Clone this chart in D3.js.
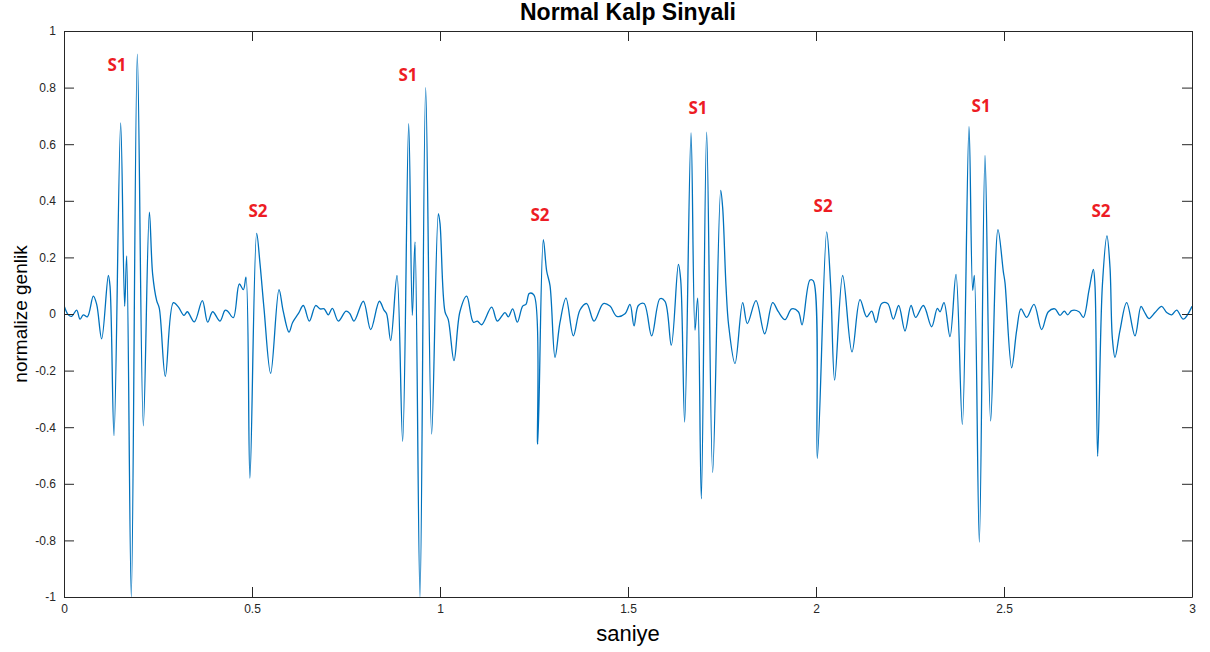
<!DOCTYPE html>
<html>
<head>
<meta charset="utf-8">
<script src="https://cdn.jsdelivr.net/npm/d3@7"></script>
<style>
  html, body { margin: 0; padding: 0; background: #fff; }
  svg { display: block; font-family: "Liberation Sans", Arial, sans-serif; }
</style>
</head>
<body>
<svg id="chart" width="1210" height="652"></svg>
<script>
// Heart sound signal, [seconds, normalised amplitude], split into half-second pieces
const part0 = [[0,0.03],[0.0115,-0.003],[0.0204,-0.008],[0.0337,0.014],[0.0426,-0.018],[0.0514,-0.003],[0.0621,-0.01],[0.078,0.063],[0.0869,0.034],[0.1002,-0.088],[0.1179,0.136],[0.1223,0.10],[0.133,-0.43],[0.1507,0.675],[0.1613,0.027],[0.1667,0.205],[0.179,-1.0],[0.195,0.918],[0.211,-0.395],[0.227,0.36],[0.2358,0.14],[0.2465,0.047],[0.2535,0.02],[0.2695,-0.22],[0.2908,0.04],[0.304,0.025],[0.3191,-0.005],[0.328,0.008],[0.3466,-0.028],[0.3679,0.047],[0.3821,-0.029],[0.3954,0.008],[0.4149,-0.025],[0.4282,0.013],[0.4353,0.01],[0.4503,-0.013],[0.4663,0.106],[0.477,0.086],[0.484,0.13],[0.4945,-0.58]];
const part1 = [[0.5124,0.285],[0.5213,0.178],[0.5319,0.02],[0.5496,-0.21],[0.5718,0.086],[0.583,0.01],[0.5984,-0.064],[0.608,-0.03],[0.6232,0.001],[0.6365,0.03],[0.6525,-0.025],[0.6693,0.03],[0.6809,0.018],[0.692,0.018],[0.703,-0.003],[0.7137,0.02],[0.7296,-0.025],[0.75,0.01],[0.76,0.002],[0.7713,-0.025],[0.7961,0.045],[0.8156,-0.055],[0.8387,0.045],[0.851,0.014],[0.858,0.001],[0.8688,-0.094],[0.8856,0.136],[0.9007,-0.45],[0.9167,0.673],[0.9264,-0.005],[0.9335,0.255],[0.9468,-1.0],[0.9619,0.80],[0.9778,-0.424],[0.9956,0.355]];
const part2 = [[1.0,0.32],[1.0133,0.008],[1.022,-0.02],[1.0372,-0.165],[1.053,0.008],[1.0709,0.063],[1.0887,-0.029],[1.0993,-0.025],[1.1108,-0.038],[1.1374,0.024],[1.1525,-0.025],[1.1729,0.005],[1.1817,-0.01],[1.1933,0.018],[1.2057,-0.029],[1.2199,0.028],[1.2287,0.034],[1.2376,0.073],[1.25,0.067],[1.2598,-0.46],[1.2748,0.263],[1.2837,0.152],[1.2926,0.10],[1.3059,-0.153],[1.3191,-0.03],[1.3351,0.056],[1.3546,-0.077],[1.3723,0.014],[1.39,0.037],[1.4096,-0.025],[1.4344,0.037],[1.4521,0.028],[1.4699,-0.008],[1.492,0.001]];
const part3 = [[1.5053,0.034],[1.516,-0.042],[1.5275,0.03],[1.5426,0.037],[1.5629,-0.077],[1.5851,0.054],[1.5984,0.045],[1.6152,-0.11],[1.634,0.175],[1.6402,0.12],[1.6507,-0.382],[1.6676,0.64],[1.6782,-0.057],[1.6853,0.056],[1.695,-0.653],[1.7092,0.643],[1.7252,-0.56],[1.7465,0.437],[1.7518,0.375],[1.7606,0.10],[1.7677,-0.04],[1.7846,-0.175],[1.805,0.04],[1.8174,-0.034],[1.8404,0.047],[1.8635,-0.07],[1.8848,0.04],[1.8998,0.008],[1.9176,-0.02],[1.9353,0.018],[1.953,0.008],[1.9628,-0.038],[1.984,0.12],[1.9929,0.117]];
const part4 = [[2.0035,-0.51],[2.0284,0.29],[2.039,0.1],[2.0496,-0.234],[2.0709,0.136],[2.0957,-0.134],[2.117,0.051],[2.1348,-0.01],[2.1481,0.01],[2.1596,-0.03],[2.1747,0.037],[2.1906,0.037],[2.2057,-0.018],[2.2199,0.03],[2.2367,-0.06],[2.2527,0.03],[2.2651,-0.012],[2.2855,0.03],[2.3076,-0.045],[2.3227,0.02],[2.3298,0.008],[2.3404,0.04],[2.3564,-0.08],[2.3723,0.14],[2.3892,-0.39],[2.4069,0.662],[2.4167,0.084],[2.4211,0.136],[2.4344,-0.806],[2.4495,0.56],[2.4645,-0.378],[2.484,0.298],[2.4982,0.15]];
const part5 = [[2.5027,0.11],[2.5204,-0.19],[2.5337,-0.058],[2.5452,0.018],[2.5603,-0.012],[2.5798,0.034],[2.6001,-0.055],[2.6179,0.008],[2.6356,0.018],[2.6489,-0.005],[2.6605,0.01],[2.6693,-0.003],[2.68,0.012],[2.6995,0.008],[2.711,-0.012],[2.7261,0.084],[2.7376,0.158],[2.742,0.1],[2.7491,-0.503],[2.7616,0.1],[2.7739,0.276],[2.7819,0.165],[2.7881,-0.084],[2.7952,-0.153],[2.8085,-0.058],[2.8262,0.04],[2.8484,-0.077],[2.8644,0.027],[2.8732,0.008],[2.8856,-0.016],[2.9016,0.005],[2.9193,0.027],[2.9326,0.005],[2.9459,-0.003],[2.9592,0.014],[2.977,-0.018],[3.0,0.027]];

// Heart sound markers
const markerText = ["S1","S2","S1","S2","S1","S2","S1","S2"];
const markerTime = [0.141,0.516,0.915,1.266,1.686,2.019,2.439,2.758];
const markerAmp  = [0.88,0.367,0.845,0.35,0.731,0.382,0.735,0.364];

// Axis ticks
const xTicks = [0,0.5,1,1.5,2,2.5,3];
const yTicks = [-1,-0.8,-0.6,-0.4,-0.2,0,0.2,0.4,0.6,0.8,1];

const titleText = "Normal Kalp Sinyali";
const xLabel = "saniye";
const yLabel = "normalize genlik";

const signal = [].concat(part0, part1, part2, part3, part4, part5);

const svg = d3.select("#chart");
const plotL = 64, plotR = 1192, plotT = 31, plotB = 597;
const axisColor = "#262626";

const x = d3.scaleLinear().domain([0, 3]).range([plotL, plotR]);
const y = d3.scaleLinear().domain([-1, 1]).range([plotB, plotT]);

svg.append("defs").append("clipPath").attr("id", "plotClip")
  .append("rect").attr("x", plotL).attr("y", plotT)
  .attr("width", plotR - plotL).attr("height", plotB - plotT);

// Signal trace
const line = d3.line()
  .x(d => x(d[0]))
  .y(d => y(d[1]))
  .curve(d3.curveCatmullRom.alpha(0.5));

svg.append("path")
  .datum(signal)
  .attr("clip-path", "url(#plotClip)")
  .attr("fill", "none")
  .attr("stroke", "#0072BD")
  .attr("stroke-width", 1.3)
  .attr("stroke-linejoin", "round")
  .attr("d", line);

// Axes with inward ticks on all four sides
const fmt = d => String(+d.toFixed(1));
const tickLen = 10;

const gBottom = svg.append("g").attr("transform", `translate(0,${plotB})`)
  .call(d3.axisBottom(x).tickValues(xTicks).tickFormat(fmt).tickSizeInner(-tickLen).tickSizeOuter(0).tickPadding(7));
const gTop = svg.append("g").attr("transform", `translate(0,${plotT})`)
  .call(d3.axisTop(x).tickValues(xTicks).tickFormat("").tickSizeInner(-tickLen).tickSizeOuter(0));
const gLeft = svg.append("g").attr("transform", `translate(${plotL},0)`)
  .call(d3.axisLeft(y).tickValues(yTicks).tickFormat(fmt).tickSizeInner(-tickLen).tickSizeOuter(0).tickPadding(8));
const gRight = svg.append("g").attr("transform", `translate(${plotR},0)`)
  .call(d3.axisRight(y).tickValues(yTicks).tickFormat("").tickSizeInner(-tickLen).tickSizeOuter(0));

[gBottom, gTop, gLeft, gRight].forEach(g => {
  g.selectAll(".domain").attr("stroke", axisColor).attr("stroke-width", 1);
  g.selectAll(".tick line").attr("stroke", axisColor).attr("stroke-width", 1);
  g.selectAll(".tick text").attr("fill", axisColor).style("font-size", "12px")
    .style("font-family", "'Liberation Sans', Arial, sans-serif");
});

// Heart sound labels
svg.append("g").selectAll("text")
  .data(markerText)
  .join("text")
  .attr("x", (d, i) => x(markerTime[i]))
  .attr("y", (d, i) => y(markerAmp[i]))
  .attr("text-anchor", "middle")
  .attr("dominant-baseline", "central")
  .attr("fill", "#ED1C24")
  .style("font-family", "'Open Sans', 'Noto Sans', sans-serif")
  .style("font-weight", "700")
  .style("font-size", "17px")
  .text(d => d);

// Title and axis labels
svg.append("text")
  .attr("x", (plotL + plotR) / 2).attr("y", 20)
  .attr("text-anchor", "middle")
  .attr("fill", "#000")
  .style("font-weight", "700")
  .style("font-size", "23px")
  .text(titleText);

svg.append("text")
  .attr("x", (plotL + plotR) / 2).attr("y", 641)
  .attr("text-anchor", "middle")
  .attr("fill", "#000")
  .style("font-size", "22px")
  .text(xLabel);

svg.append("text")
  .attr("transform", `translate(27,${(plotT + plotB) / 2}) rotate(-90)`)
  .attr("text-anchor", "middle")
  .attr("fill", "#000")
  .style("font-size", "19px")
  .text(yLabel);
</script>
</body>
</html>
